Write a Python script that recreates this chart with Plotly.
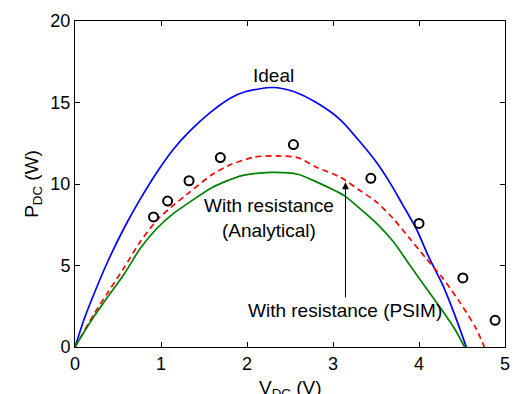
import plotly.graph_objects as go

# Ideal curve
v_ideal = [0, 0.109, 0.224, 0.377, 0.568, 0.76, 0.951, 1.142, 1.334, 1.564, 1.8, 1.977, 2.30, 2.55, 2.82, 3.086, 3.355, 3.507, 3.66, 3.814, 3.967, 4.12, 4.273, 4.426, 4.55]
p_ideal = [0, 1.75, 3.3, 5.2, 7.27, 9.09, 10.71, 12.12, 13.24, 14.35, 15.25, 15.66, 15.92, 15.66, 14.95, 13.94, 12.33, 11.32, 10.1, 8.69, 7.27, 5.45, 3.84, 1.82, 0]

# With resistance (Analytical)
v_anal = [0, 0.109, 0.224, 0.377, 0.568, 0.76, 0.951, 1.142, 1.334, 1.6, 1.82, 2.09, 2.36, 2.59, 2.82, 3.09, 3.3, 3.507, 3.70, 3.89, 4.08, 4.273, 4.464, 4.656, 4.76]
p_anal = [0, 1.0, 2.05, 3.3, 4.85, 6.47, 7.78, 8.69, 9.5, 10.6, 11.21, 11.66, 11.72, 11.62, 11.0, 10.4, 9.65, 8.89, 7.88, 6.67, 5.45, 4.24, 2.83, 1.21, 0]

# With resistance (PSIM)
v_psim = [0, 0.109, 0.224, 0.377, 0.568, 0.76, 0.951, 1.142, 1.334, 1.6, 1.94, 2.28, 2.59, 2.82, 3.125, 3.3, 3.507, 3.70, 3.89, 4.08, 4.273, 4.426, 4.53]
p_psim = [0, 0.95, 1.9, 3.05, 4.45, 6.06, 7.27, 8.18, 8.89, 9.8, 10.51, 10.71, 10.6, 10.1, 9.3, 8.55, 7.58, 6.47, 5.05, 3.64, 2.22, 1.01, 0]

# Measured points
v_meas = [0.913, 1.077, 1.326, 1.69, 2.54, 3.44, 4.0, 4.51, 4.885]
p_meas = [7.98, 8.95, 10.2, 11.62, 12.42, 10.35, 7.58, 4.24, 1.64]

x_ticks = [0, 1, 2, 3, 4, 5]
y_ticks = [0, 5, 10, 15, 20]

FONT = "Liberation Sans, Arial, Helvetica, sans-serif"

fig = go.Figure()
fig.add_trace(go.Scatter(x=v_ideal, y=p_ideal, mode="lines",
                         line=dict(color="#0000ff", width=1.7, shape="spline", smoothing=0.7),
                         showlegend=False))
fig.add_trace(go.Scatter(x=v_anal, y=p_anal, mode="lines",
                         line=dict(color="#ff0000", width=1.7, dash="6px,4px",
                                   shape="spline", smoothing=0.7), showlegend=False))
fig.add_trace(go.Scatter(x=v_psim, y=p_psim, mode="lines",
                         line=dict(color="#008000", width=1.7, shape="spline", smoothing=0.7),
                         showlegend=False))
fig.add_trace(go.Scatter(x=v_meas, y=p_meas, mode="markers",
                         marker=dict(symbol="circle-open", size=9, color="black",
                                     line=dict(width=2, color="black")),
                         showlegend=False))

axis_common = dict(showline=True, linecolor="black", linewidth=1, mirror="ticks",
                   ticks="inside", ticklen=5, tickcolor="black", tickwidth=1,
                   showgrid=False, zeroline=False,
                   tickfont=dict(family=FONT, size=18, color="black"))

fig.update_xaxes(range=[0, 5], tickvals=x_ticks, **axis_common)
fig.update_yaxes(range=[0, 20], tickvals=y_ticks, **axis_common)

fig.update_layout(
    width=521, height=394,
    margin=dict(l=75, r=11, t=17, b=47),
    paper_bgcolor="white", plot_bgcolor="white",
    font=dict(family=FONT, size=18, color="black"),
    annotations=[
        dict(x=2.31, y=16.65, xref="x", yref="y", text="Ideal", showarrow=False,
             font=dict(size=19)),
        dict(x=2.26, y=7.92, xref="x", yref="y", text="With resistance<br>(Analytical)",
             showarrow=False, font=dict(size=19)),
        dict(x=3.14, y=2.22, xref="x", yref="y", text="With resistance (PSIM)",
             showarrow=False, font=dict(size=19)),
        dict(x=3.145, y=10.1, xref="x", yref="y", ax=3.145, ay=2.95,
             axref="x", ayref="y", text="", showarrow=True,
             arrowhead=2, arrowsize=1.4, arrowwidth=1, arrowcolor="black"),
        dict(x=0.5, y=-0.085, xref="paper", yref="paper", yanchor="top",
             text="V<sub>DC</sub> (V)", showarrow=False, font=dict(size=19)),
        dict(x=-0.098, y=0.5, xref="paper", yref="paper", xanchor="center",
             text="P<sub>DC</sub> (W)", textangle=-90, showarrow=False, font=dict(size=19)),
    ],
)

fig.write_html("out.html")
